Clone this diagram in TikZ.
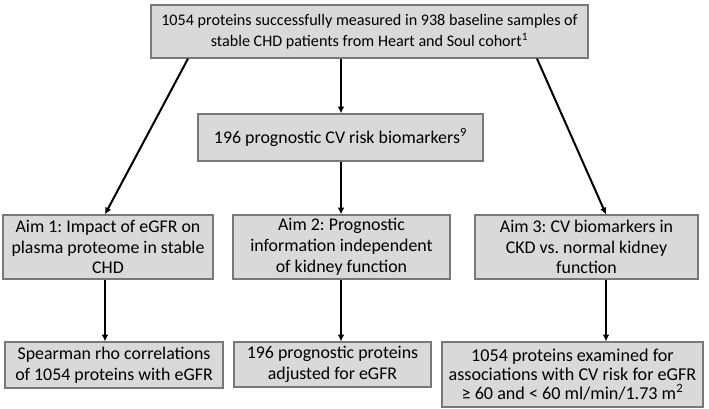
\documentclass[tikz,border=0pt]{standalone}
\usepackage{fontspec}
\setmainfont{Carlito}
\usepackage{xcolor}
\usetikzlibrary{arrows.meta}
\definecolor{boxfill}{RGB}{217,217,217}
\definecolor{boxline}{RGB}{120,120,120}
\frenchspacing
\newcommand{\boxfont}[2]{\fontsize{#1}{#2}\selectfont}

\begin{document}
\begin{tikzpicture}[x=0.75pt, y=-0.75pt, >={Latex[length=5pt,width=5pt]},
    box/.style={draw=boxline, fill=boxfill, line width=1pt, align=center, inner sep=0pt,
        font=\boxfont{13.4}{15.6}},
    arr/.style={->, line width=1.5pt}]
    \useasboundingbox (0,0) rectangle (709,408);

    % cohort and biomarker set
    \node [box, minimum width=327.75pt, minimum height=39.75pt, font=\boxfont{12.1}{15.5}] (cohort) at (369.5,31.5)
        {1054 proteins successfully measured in 938 baseline samples of\\stable CHD patients from Heart and Soul cohort\textsuperscript{1}};
    \node [box, minimum width=213.75pt, minimum height=35.25pt] (risk) at (340.5,137.5)
        {196 prognostic CV risk biomarkers\textsuperscript{9}};

    % aims
    \node [box, minimum width=157.5pt, minimum height=48pt] (aimone) at (108,247)
        {Aim 1: Impact of eGFR on\\plasma proteome in stable\\CHD};
    \node [box, minimum width=162.75pt, minimum height=48pt] (aimtwo) at (341.5,247)
        {Aim 2: Prognostic\\information independent\\of kidney function};
    \node [box, minimum width=167.25pt, minimum height=48pt] (aimthree) at (586.5,247)
        {Aim 3: CV biomarkers in\\CKD vs. normal kidney\\function};

    % analyses
    \node [box, minimum width=163.5pt, minimum height=34.5pt] (spearman) at (114,365)
        {Spearman rho correlations\\of 1054 proteins with eGFR};
    \node [box, minimum width=147.75pt, minimum height=33.75pt] (adjusted) at (332.5,364.5)
        {196 prognostic proteins\\adjusted for eGFR};
    \node [box, minimum width=195.75pt, minimum height=48.75pt, font=\boxfont{13.6}{14.4}] (examined) at (572.5,374.5)
        {1054 proteins examined for\\associations with CV risk for eGFR\\≥ 60 and < 60 ml/min/1.73 m\textsuperscript{2}};

    % arrow columns
    \coordinate (colone) at (105,0);
    \coordinate (coltwo) at (341,0);
    \coordinate (colthree) at (606,0);
    \coordinate (startone) at (188,0);
    \coordinate (startthree) at (537,0);

    \draw [arr] (cohort.south -| coltwo) -- (risk.north -| coltwo);
    \draw [arr] (cohort.south -| startone) -- (aimone.north -| colone);
    \draw [arr] (cohort.south -| startthree) -- (aimthree.north -| colthree);
    \draw [arr] (risk.south -| coltwo) -- (aimtwo.north -| coltwo);

    \draw [arr] (aimone.south -| colone) -- (spearman.north -| colone);
    \draw [arr] (aimtwo.south -| coltwo) -- (adjusted.north -| coltwo);
    \draw [arr] (aimthree.south -| colthree) -- (examined.north -| colthree);
\end{tikzpicture}
\end{document}
